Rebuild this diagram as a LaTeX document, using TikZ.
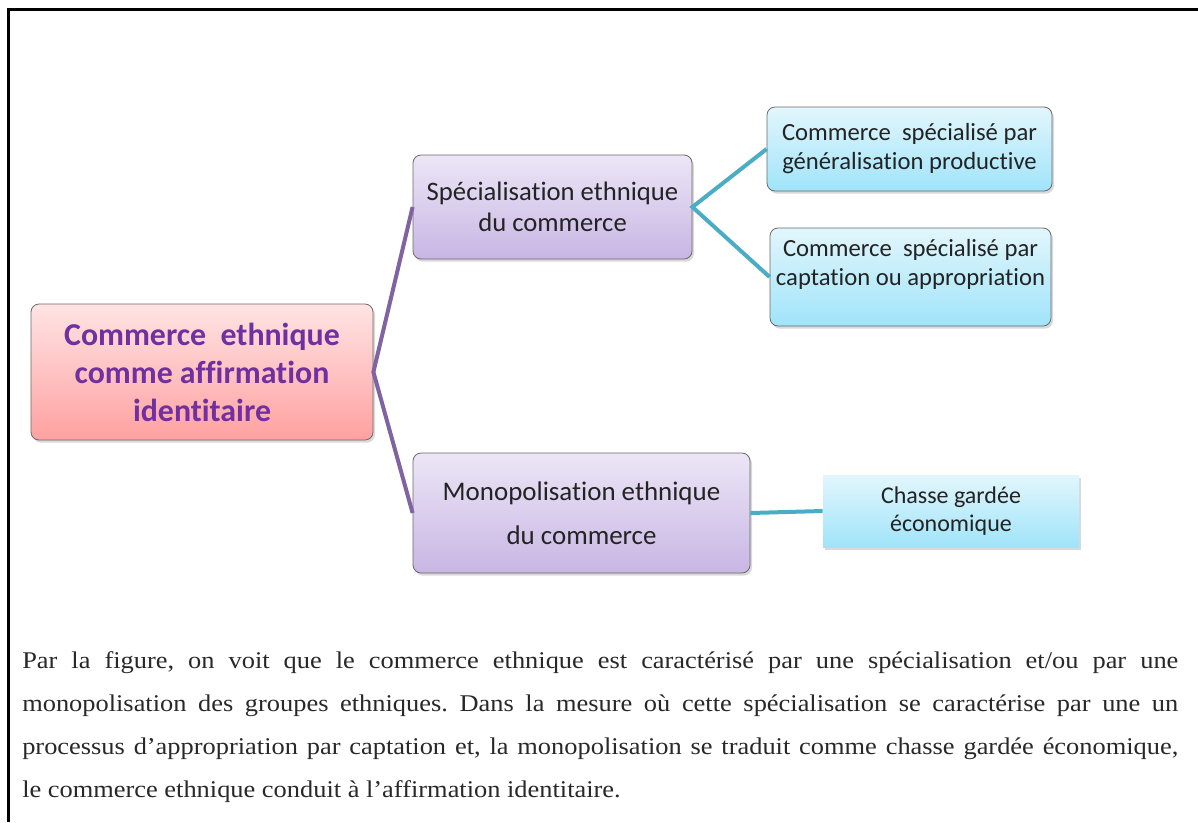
\documentclass[tikz,border=0pt]{standalone}
\usepackage{fontspec}
\setmainfont{Liberation Serif}[FakeStretch=1.1]
\newfontfamily\calib{Carlito}[Ligatures=NoCommon]
\usepackage{tikz}
\usetikzlibrary{shadows}
\definecolor{rootpurple}{RGB}{112,48,160}
\definecolor{linkpurple}{RGB}{128,100,162}
\definecolor{linkteal}{RGB}{75,172,198}
\definecolor{boxedge}{RGB}{105,105,105}
\definecolor{boxtext}{RGB}{35,35,35}

\begin{document}
\begin{tikzpicture}[x=0.75pt,y=0.75pt,yscale=-1,xscale=1,
  box/.style={draw=boxedge, line width=0.6pt, rounded corners=6pt, align=center, text=boxtext, inner sep=2pt,
    drop shadow={opacity=0.3, shadow xshift=1.5pt, shadow yshift=-2pt}},
  rootbox/.style={box, top color={rgb,255:red,255;green,228;blue,228}, bottom color={rgb,255:red,255;green,160;blue,160},
    text=rootpurple, font=\calib\bfseries\fontsize{23.9}{28.5}\selectfont},
  midbox/.style={box, top color={rgb,255:red,236;green,230;blue,246}, bottom color={rgb,255:red,200;green,182;blue,228},
    font=\calib\fontsize{20}{23.25}\selectfont},
  leafbox/.style={box, top color={rgb,255:red,226;green,246;blue,252}, bottom color={rgb,255:red,160;green,228;blue,250},
    font=\calib\fontsize{18.5}{21.75}\selectfont},
  purplelink/.style={draw=linkpurple, line width=3pt},
  teallink/.style={draw=linkteal, line width=3pt}]
%set diagram size
\useasboundingbox (0,0) rectangle (1198,822);

%Frame
\draw [line width=2.25pt] (8,822) -- (8,9) -- (1198,9);

%Root
\draw (202,372) node [rootbox, minimum width=256.5pt, minimum height=102pt] (root) {Commerce\ \ ethnique\\comme affirmation\\identitaire};
%Second level
\draw (552.5,207) node [midbox, minimum width=209.25pt, minimum height=78pt] (spec) {Spécialisation ethnique\\du commerce};
\draw (581.5,513) node [midbox, font=\calib\fontsize{20.2}{23}\selectfont, minimum width=252.75pt, minimum height=90pt] (mono) {Monopolisation ethnique\\[10pt]du commerce};
%Leaves
\draw (909.5,149) node [leafbox, minimum width=213.75pt, minimum height=63pt] (gen) {Commerce\ \ spécialisé par\\généralisation productive};
\draw (910.5,277) node [leafbox, minimum width=210.75pt, minimum height=73.5pt] (capt) {Commerce\ \ spécialisé par\\captation ou appropriation\\~};
\draw (951,511) node [leafbox, draw=none, rounded corners=0pt, font=\calib\fontsize{18}{21}\selectfont, minimum width=192pt, minimum height=54pt] (chasse) {Chasse gardée\\économique};

%Links
\draw [purplelink] (spec.west) -- (root.east) -- (mono.west);
\draw [teallink] (gen.west) -- (spec.east) -- (capt.west);
\draw [teallink] (mono.east) -- (chasse.west);

% Text Node
\draw (22,651) node [anchor=north west, inner sep=0pt, text width=867pt, align=justify, text={rgb,255:red,40;green,40;blue,40},
  font=\fontsize{18}{32.25}\selectfont] (para) {\frenchspacing\hyphenpenalty=10000 Par la figure, on voit que le commerce ethnique est caractérisé par une spécialisation et/ou par une\linebreak monopolisation des groupes ethniques. Dans la mesure où cette spécialisation se caractérise par une un\linebreak processus d’appropriation par captation et, la monopolisation se traduit comme chasse gardée économique,\linebreak le commerce ethnique conduit à l’affirmation identitaire.};

\end{tikzpicture}
\end{document}
